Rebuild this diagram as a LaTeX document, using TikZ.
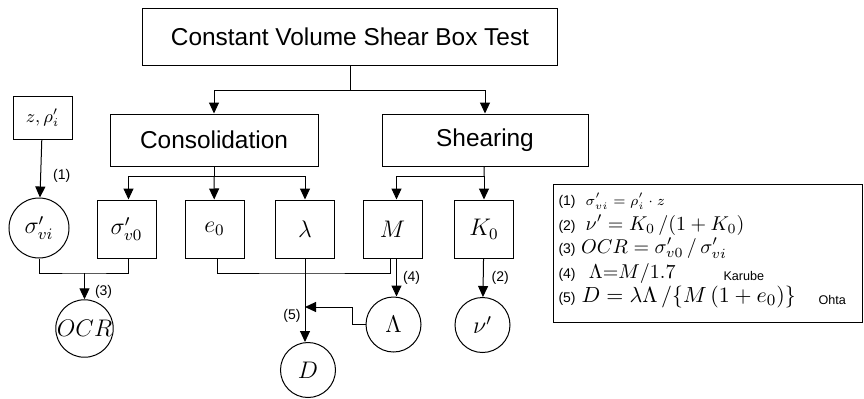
\documentclass[tikz,border=0pt]{standalone}
\usepackage{fontspec}
\setmainfont{Liberation Sans}
\usetikzlibrary{arrows.meta,positioning}

\newcommand{\legno}[1]{{\fontsize{7}{8}\selectfont #1}}

\begin{document}
\begin{tikzpicture}[x=0.5pt,y=-0.5pt,>={Triangle[length=5.5pt,width=5pt]},
										line width=0.5pt]
	\tikzset{every node/.style={inner sep=0pt},
		head/.style={draw,minimum height=26pt,font=\fontsize{12.2}{14}\selectfont},
		var/.style={draw,minimum width=29.5pt,minimum height=29pt,font=\fontsize{11.5}{13}\selectfont},
		res/.style={draw,circle,minimum size=27.5pt,font=\fontsize{11.5}{13}\selectfont},
		eqno/.style={font=\fontsize{7}{8}\selectfont},
		eqn/.style={anchor=base west,font=\fontsize{10}{12}\selectfont}}
	\useasboundingbox (0,0) rectangle (864,398);

	\node[head,minimum width=207.5pt,minimum height=28.5pt] (test) at (350,36.5) {Constant Volume Shear Box Test};
	\node[head,minimum width=104pt] (cons)  at (214,140) {Consolidation};
	\node[head,minimum width=103pt] (shear) at (485,140) {Shearing};

	\node[var,minimum height=21.5pt,font=\fontsize{9}{11}\selectfont] (zrho) at (42.5,117.5) {$z,\rho'_i$};
	\node[var] (sv0) at (126.5,229) {$\sigma'_{v0}$};
	\node[var] (e0)  at (214.5,229) {$e_0$};
	\node[var] (lam) at (305,229)   {$\lambda$};
	\node[var] (M)   at (392.5,229) {$M$};
	\node[var] (K0)  at (484,229)   {$K_0$};

	\node[res,minimum size=30pt] (svi) at (39,228) {$\sigma'_{vi}$};
	\node[res] (OCR) at (84.5,328.5) {$OCR$};
	\node[res] (Lam) at (393.5,324.5) {$\Lambda$};
	\node[res] (nu)  at (482.5,325) {$\nu'$};
	\node[res] (D)   at (308,370) {$D$};

	% tree
	\coordinate (s1) at (350,90);
	\coordinate (s2) at (214,176);
	\coordinate (s3) at (484,176);
	\draw (test) -- (s1);
	\draw[->] (s1) -| (cons);
	\draw[->] (s1) -| (shear);
	\draw (cons) -- (s2);
	\draw[->] (s2) -| ([xshift=1pt]sv0.north);
	\draw[->] (s2) -- (e0);
	\draw[->] (s2) -| (lam);
	\draw (shear) -- (s3);
	\draw[->] (s3) -| ([xshift=2pt]M.north);
	\draw[->] (s3) -- (K0);

	% derived values
	\draw[->] (zrho) -- (svi) node[eqno,pos=0.62,right=6pt] {(1)};
	\coordinate (j1) at (84.5,273);
	\draw (svi.south) |- (j1) -| ([xshift=1pt]sv0.south);
	\draw[->] (j1) -- (OCR) node[eqno,pos=0.7,right=5pt] {(3)};
	\coordinate (j2) at (300,273);
	\draw ([xshift=1.5pt]e0.south) |- (j2) -| ([xshift=-1pt]M.south);
	\draw[->] ([xshift=2pt]M.south) -- ([xshift=2pt]M.south |- Lam.north) node[eqno,pos=0.5,right=3pt] {(4)};
	\draw[->] (K0) -- (nu) node[eqno,pos=0.5,right=4pt] {(2)};
	\draw[->] (lam) -- (lam.south |- D.north);
	\coordinate (kink) at (352,307);
	\draw[->] (Lam.west) -| (kink) -- (lam.south |- kink) node[eqno,below left=1pt and 2pt] {(5)};

	% equations
	\node[draw,minimum width=154.5pt,minimum height=69pt,anchor=north west] (legend) at (553,184) {};
	\node[eqn] (l1) at (558,205) {\legno{(1)}\enspace{\fontsize{7.5}{9}\selectfont$\sigma'_{vi}=\rho'_i\cdot z$}};
	\node[eqn] (l2) at (558,230) {\legno{(2)}\enspace$\nu'=K_0\,/(1+K_0)$};
	\node[eqn] (l3) at (558,253) {\legno{(3)} $OCR=\sigma'_{v0}\,/\,\sigma'_{vi}$};
	\node[eqn] (l4) at (558,278) {\legno{(4)}\enspace\,$\Lambda{=}M/1.7$};
	\node[eqn,font=\fontsize{6.3}{7}\selectfont] (karube) at (723,280) {Karube};
	\node[eqn,font=\fontsize{10.8}{12}\selectfont] (l5) at (558,302) {\legno{(5)} $D=\lambda\Lambda\,/\bigl\{M\,(1+e_0)\bigr\}$};
	\node[eqn,font=\fontsize{6.3}{7}\selectfont] (ohta) at (818,304) {Ohta};
\end{tikzpicture}
\end{document}
